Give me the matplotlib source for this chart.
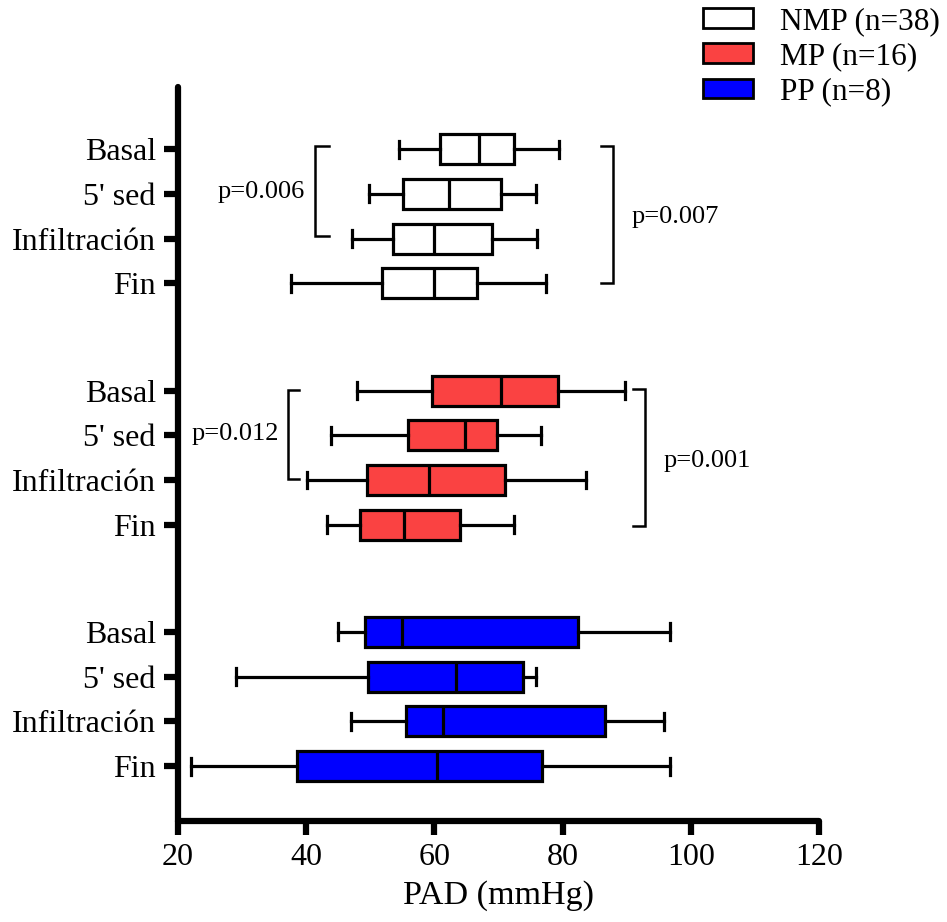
import matplotlib
matplotlib.use("Agg")
import matplotlib.pyplot as plt
from matplotlib.patches import Patch

plt.rcParams['font.family'] = ['Liberation Serif', 'DejaVu Serif']

# Categories and groups
phases = ["Basal", "5' sed", "Infiltración", "Fin"]
groups = ["NMP (n=38)", "MP (n=16)", "PP (n=8)"]
group_colors = ["#FFFFFF", "#FA4242", "#0000FF"]

# Five-number summaries per group, one entry per phase (Basal, 5' sed, Infiltración, Fin)
nmp_min = [54.5, 49.8, 47.2, 37.6]
nmp_q1 = [60.9, 55.1, 53.6, 51.8]
nmp_med = [67.0, 62.3, 59.9, 59.9]
nmp_q3 = [72.4, 70.4, 68.9, 66.6]
nmp_max = [79.4, 75.8, 76.0, 77.4]

mp_min = [47.9, 43.9, 40.1, 43.2]
mp_q1 = [59.6, 55.9, 49.4, 48.4]
mp_med = [70.3, 64.7, 59.1, 55.2]
mp_q3 = [79.2, 69.7, 71.0, 64.0]
mp_max = [89.7, 76.6, 83.7, 72.4]

pp_min = [44.9, 29.0, 47.0, 22.0]
pp_q1 = [49.2, 49.6, 55.6, 38.6]
pp_med = [55.0, 63.4, 61.4, 60.4]
pp_q3 = [82.4, 73.8, 86.6, 76.8]
pp_max = [96.8, 75.8, 95.8, 96.8]

summaries = [
    (nmp_min, nmp_q1, nmp_med, nmp_q3, nmp_max),
    (mp_min, mp_q1, mp_med, mp_q3, mp_max),
    (pp_min, pp_q1, pp_med, pp_q3, pp_max),
]

# Significance annotations: (label, bracket x, arm x, y top, y bottom, text x, text y, side)
brackets = [
    ("p=0.006", 41.4, 43.6, -0.07, 1.93, 39.8, 0.95, "left"),
    ("p=0.007", 87.9, 85.9, -0.07, 3.0, 90.8, 1.51, "right"),
    ("p=0.012", 37.1, 38.9, 5.38, 7.38, 35.8, 6.36, "left"),
    ("p=0.001", 92.85, 90.9, 5.36, 8.43, 95.8, 6.97, "right"),
]

group_step = 5.4

fig = plt.figure(figsize=(9.47, 9.22), dpi=100)
ax = fig.add_axes([0.188, 0.1095, 0.677, 0.7965])

ytick_pos = []
ytick_lab = []
for g, (lo, q1, med, q3, hi) in enumerate(summaries):
    stats = []
    pos = []
    for r in range(len(phases)):
        stats.append(dict(whislo=lo[r], q1=q1[r], med=med[r], q3=q3[r], whishi=hi[r], fliers=[]))
        pos.append(g * group_step + r)
    kw = dict(positions=pos, widths=0.67, capwidths=0.38, patch_artist=True, showfliers=False,
              boxprops=dict(facecolor=group_colors[g], edgecolor="black", linewidth=2.3),
              medianprops=dict(color="black", linewidth=2.3),
              whiskerprops=dict(color="black", linewidth=2.3),
              capprops=dict(color="black", linewidth=2.3))
    try:
        ax.bxp(stats, orientation="horizontal", **kw)
    except TypeError:
        ax.bxp(stats, vert=False, **kw)
    ytick_pos += pos
    ytick_lab += phases

for label, xb, xa, yt, yb, tx, ty, side in brackets:
    ax.plot([xa, xb, xb, xa], [yt, yt, yb, yb], color="black", lw=1.8,
            solid_joinstyle="miter", clip_on=False)
    ax.text(tx, ty, label, fontsize=19, ha="right" if side == "left" else "left",
            va="center")

ax.set_xlim(20, 120)
ax.set_ylim(15.03, -1.40)
ax.set_xticks([20, 40, 60, 80, 100, 120])
ax.set_yticks(ytick_pos)
ax.set_yticklabels(ytick_lab)

for s in ("top", "right"):
    ax.spines[s].set_visible(False)
for s in ("left", "bottom"):
    ax.spines[s].set_linewidth(4.5)
    ax.spines[s].set_capstyle("round")

ax.tick_params(axis="both", which="major", length=10, width=4.5, pad=6)
ax.tick_params(axis="y", labelsize=23)
ax.tick_params(axis="x", labelsize=23)
for t in ax.xaxis.get_ticklines() + ax.yaxis.get_ticklines():
    t.set_solid_capstyle("round")

ax.set_xlabel("PAD (mmHg)", fontsize=24.5, labelpad=6)

handles = [Patch(facecolor=c, edgecolor="black", linewidth=2) for c in group_colors]
fig.legend(handles, groups, loc="upper left", bbox_to_anchor=(703 / 947, 1 - 7 / 922),
           frameon=False, fontsize=22.5, handlelength=1.6, handleheight=0.6,
           labelspacing=0.2, handletextpad=0.85, borderpad=0, borderaxespad=0)

fig.savefig("out.png", dpi=100)
